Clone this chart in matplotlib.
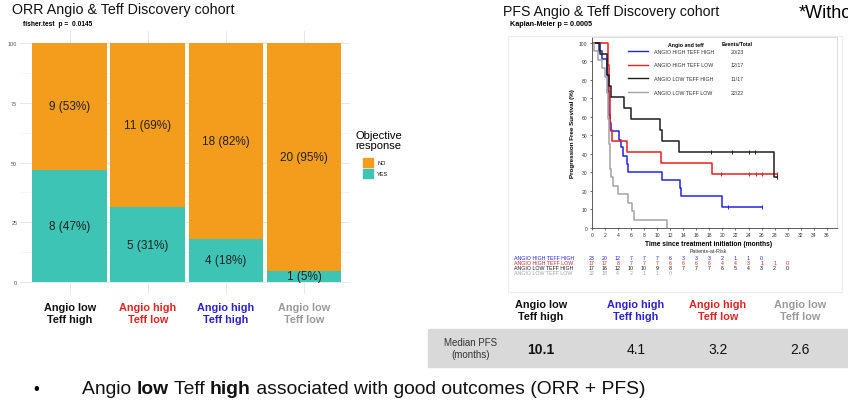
import matplotlib

matplotlib.use("Agg")
import matplotlib.pyplot as plt
import matplotlib.transforms as mtransforms
from matplotlib.patches import Rectangle
import numpy as np

plt.rcParams["font.family"] = ["Liberation Sans", "DejaVu Sans"]

# ---------------- data ----------------
orr_groups = ["Angio low\nTeff high", "Angio high\nTeff low", "Angio high\nTeff high", "Angio low\nTeff low"]
orr_group_colors = ["#111111", "#e02424", "#2a22d0", "#9a9a9a"]
orr_yes = [8, 5, 4, 1]
orr_no = [9, 11, 18, 20]

km_names = ["ANGIO HIGH TEFF HIGH", "ANGIO HIGH TEFF LOW", "ANGIO LOW TEFF HIGH", "ANGIO LOW TEFF LOW"]
km_colors = ["#2323e0", "#e32222", "#1e1e1e", "#a3a3a3"]
km_events = ["20/23", "12/17", "11/17", "22/22"]

hh_t = [0, 1.1, 1.6, 2.3, 2.4, 2.45, 2.5, 2.6, 2.65, 2.7, 2.8, 2.9, 4.2, 4.5, 4.8, 5.4, 5.6, 10.7, 13.5, 13.7, 19.9]
hh_s = [100, 95.7, 91.3, 87.0, 82.6, 78.3, 73.9, 69.6, 65.2, 60.9, 56.5, 52.2, 47.8, 43.5, 39.1, 34.8, 30.4, 26.1, 21.7, 17.4, 11.6]
hh_end = 26.0
hh_cens = [20.8, 26.0]

hl_t = [0, 2.5, 2.55, 2.6, 2.65, 2.7, 2.75, 2.8, 2.85, 3.1, 5.4, 10.6, 18.4]
hl_s = [100, 94.1, 88.2, 82.4, 76.5, 70.6, 64.7, 58.8, 52.9, 47.1, 41.2, 35.3, 29.4]
hl_end = 28.4
hl_cens = [19.8, 24.1, 25.1, 26.1, 28.3]

lh_t = [0, 1.2, 2.3, 2.4, 2.6, 3.0, 5.0, 6.0, 10.4, 10.8, 13.4, 27.9]
lh_s = [100, 94.1, 88.2, 82.4, 76.5, 70.6, 64.7, 58.8, 52.9, 47.1, 41.2, 27.5]
lh_end = 28.4
lh_cens = [18.3, 21.4, 24.1, 25.0, 28.3]

ll_t = [0, 0.3, 1.0, 1.5, 2.0, 2.3, 2.4, 2.45, 2.5, 2.55, 2.6, 2.65, 2.7, 2.75, 2.8, 2.85, 2.9, 3.3, 4.0, 5.6, 6.1, 6.5, 11.5]
ll_s = [100, 95.5, 90.9, 86.4, 81.8, 77.3, 72.7, 68.2, 63.6, 59.1, 54.5, 50.0, 45.5, 40.9, 36.4, 31.8, 27.3, 22.7, 18.2, 13.6, 9.1, 4.5, 0]
ll_end = 11.5
ll_cens = []

risk_times = list(range(0, 32, 2))
risk_hh = [23, 20, 12, 7, 7, 7, 6, 3, 3, 3, 2, 1, 1, 0]
risk_hl = [17, 17, 8, 7, 7, 7, 6, 6, 6, 6, 4, 4, 3, 1, 1, 0]
risk_lh = [17, 16, 12, 10, 10, 9, 8, 7, 7, 7, 6, 5, 4, 3, 2, 0]
risk_ll = [22, 18, 4, 2, 1, 1, 0]

pfs_groups = ["Angio low\nTeff high", "Angio high\nTeff high", "Angio high\nTeff low", "Angio low\nTeff low"]
pfs_group_colors = ["#111111", "#2a22d0", "#e02424", "#9a9a9a"]
pfs_median = ["10.1", "4.1", "3.2", "2.6"]

# ---------------- layout helpers (pixels) ----------------
W, H = 848, 410
fig = plt.figure(figsize=(W / 100, H / 100), dpi=100)


def box(l, t, r, b):
    return [l / W, 1 - b / H, (r - l) / W, (b - t) / H]


def fx(px):
    return px / W


def fy(py):
    return 1 - py / H


ORANGE = "#f49c1c"
TEAL = "#3ec4b4"

# ---------------- left: ORR stacked bars ----------------
fig.text(fx(12), fy(10), "ORR Angio & Teff Discovery cohort", fontsize=10.3, va="center", color="#111111")
fig.text(fx(23), fy(25), "fisher.test  p =  0.0145", fontsize=4.8, fontweight="bold", va="center")

ax = fig.add_axes(box(20, 32, 350, 295))
x = np.arange(len(orr_groups))
tot = np.array(orr_yes) + np.array(orr_no)
yes_pct = 100 * np.array(orr_yes) / tot
no_pct = 100 - yes_pct
ax.bar(x, yes_pct, width=0.96, color=TEAL, zorder=2)
ax.bar(x, no_pct, bottom=yes_pct, width=0.96, color=ORANGE, zorder=2)
for i in range(len(x)):
    ax.text(x[i], yes_pct[i] / 2, f"{orr_yes[i]} ({yes_pct[i]:.0f}%)", ha="center", va="center",
            fontsize=8.5, color="#222222", zorder=3)
    ax.text(x[i], yes_pct[i] + no_pct[i] / 2, f"{orr_no[i]} ({no_pct[i]:.0f}%)", ha="center",
            va="center", fontsize=8.5, color="#222222", zorder=3)
ax.set_xlim(-0.64, 3.59)
ax.set_ylim(-5, 105)
ax.set_yticks([0, 25, 50, 75, 100])
ax.set_yticks([12.5, 37.5, 62.5, 87.5], minor=True)
ax.grid(True, which="major", color="#e8e8e8", linewidth=0.7, zorder=0)
ax.grid(True, which="minor", axis="y", color="#f2f2f2", linewidth=0.5, zorder=0)
ax.set_xticks(x)
ax.set_xticklabels(orr_groups, fontsize=7.8, fontweight="bold", linespacing=1.15)
for lbl, c in zip(ax.get_xticklabels(), orr_group_colors):
    lbl.set_color(c)
ax.tick_params(axis="x", length=0, pad=6)
ax.tick_params(axis="y", length=0, labelsize=4, labelcolor="#555555", pad=2)
ax.tick_params(which="minor", length=0)
for s in ax.spines.values():
    s.set_visible(False)

# legend
fig.text(fx(355), fy(141), "Objective\nresponse", fontsize=8, va="center", linespacing=1.1)
fig.add_artist(Rectangle((fx(363), fy(168)), 10 / W, 9 / H, color=ORANGE, transform=fig.transFigure))
fig.add_artist(Rectangle((fx(363), fy(179)), 10 / W, 9 / H, color=TEAL, transform=fig.transFigure))
fig.text(fx(377), fy(163.5), "NO", fontsize=4, va="center")
fig.text(fx(377), fy(174.5), "YES", fontsize=4, va="center")

# ---------------- right: KM ----------------
fig.text(fx(503), fy(12), "PFS Angio & Teff Discovery cohort", fontsize=10.2, va="center", color="#111111")
fig.text(fx(510), fy(25), "Kaplan-Meier p = 0.0005", fontsize=5.2, fontweight="bold", va="center")
# this text is cut by the slide edge in the source as well
fig.text(fx(799), fy(14), "*Witho", fontsize=13, va="center", clip_on=False)

fig.add_artist(Rectangle((fx(508), fy(293)), (842 - 508) / W, (293 - 37) / H, fill=False,
                         edgecolor="#ececec", linewidth=0.8, transform=fig.transFigure))

kax = fig.add_axes(box(591.7, 38, 836.7, 229))
curves = [(hh_t, hh_s, hh_end, hh_cens), (hl_t, hl_s, hl_end, hl_cens),
          (lh_t, lh_s, lh_end, lh_cens), (ll_t, ll_s, ll_end, ll_cens)]
for (t, s, end, cens), col in zip(curves, km_colors):
    tt = list(t) + [end]
    ss = list(s) + [s[-1]]
    kax.step(tt, ss, where="post", color=col, linewidth=1.1)
    if cens:
        idx = np.searchsorted(t, cens, side="right") - 1
        kax.plot(cens, np.array(s)[idx], linestyle="none", marker="|", color=col,
                 markersize=3.5, markeredgewidth=0.7)
kax.set_xlim(0, 37.5)
kax.set_ylim(0, 103.2)
kax.set_xticks(np.arange(0, 37, 2))
kax.set_yticks(np.arange(0, 101, 10))
kax.tick_params(labelsize=3.6, length=1.5, width=0.5, pad=1.5, colors="#333333")
for side in ["left", "bottom"]:
    kax.spines[side].set_color("#444444")
    kax.spines[side].set_linewidth(0.6)
for side in ["top", "right"]:
    kax.spines[side].set_color("#d8d8d8")
    kax.spines[side].set_linewidth(0.6)
kax.set_ylabel("Progression Free Survival (%)", fontsize=4.5, fontweight="bold", labelpad=3)
fig.text(fx(709), fy(245), "Time since treatment initiation (months)", fontsize=4.8,
         fontweight="bold", ha="center", va="center")

# legend inside KM plot
fig.text(fx(686), fy(45), "Angio and teff", fontsize=3.8, fontweight="bold", ha="center", va="center")
fig.text(fx(737), fy(45), "Events/Total", fontsize=3.8, fontweight="bold", ha="center", va="center")
for i, (name, col, ev) in enumerate(zip(km_names, km_colors, km_events)):
    yy = fy(52 + i * 13.7)
    fig.add_artist(plt.Line2D([fx(628), fx(648)], [yy, yy], color=col, linewidth=1.0,
                              transform=fig.transFigure))
    fig.text(fx(654), yy, name, fontsize=3.8, va="center", color="#333333")
    fig.text(fx(737), yy, ev, fontsize=3.8, va="center", ha="center", color="#333333")

# risk table
blend = mtransforms.blended_transform_factory(kax.transData, fig.transFigure)
fig.text(fx(708), fy(252), "Patients-at-Risk", fontsize=3.8, ha="center", va="center", color="#333333")
risks = [risk_hh, risk_hl, risk_lh, risk_ll]
for i, (name, col, r) in enumerate(zip(km_names, km_colors, risks)):
    yy = fy(258 + i * 5.2)
    fig.text(fx(514), yy, name, fontsize=3.8, va="center", color=col)
    for t, n in zip(risk_times, r):
        kax.text(t, yy, str(n), transform=blend, fontsize=3.8, ha="center", va="center", color=col,
                 clip_on=False)

# ---------------- bottom right: median PFS table ----------------
col_x = [541, 636, 718, 800]
for cx, g, c in zip(col_x, pfs_groups, pfs_group_colors):
    fig.text(fx(cx), fy(311), g, fontsize=7.8, fontweight="bold", color=c, ha="center", va="center",
             linespacing=1.15)
fig.add_artist(Rectangle((fx(428), fy(368)), (848 - 428) / W, 38 / H, color="#d9d9d9",
                         transform=fig.transFigure))
fig.text(fx(471), fy(349), "Median PFS\n(months)", fontsize=7, ha="center", va="center",
         color="#333333", linespacing=1.15)
for i, (cx, v) in enumerate(zip(col_x, pfs_median)):
    fig.text(fx(cx), fy(350), v, fontsize=10, ha="center", va="center", color="#111111",
             fontweight="bold" if i == 0 else "normal")

# ---------------- bullet line ----------------
fig.text(fx(33), fy(390), "\u2022", fontsize=12, va="center")
renderer = fig.canvas.get_renderer()
pieces = [("Angio ", "normal"), ("low", "bold"), (" Teff ", "normal"), ("high", "bold"),
          (" associated with good outcomes (ORR + PFS)", "normal")]
xpos = 82
for txt, wt in pieces:
    t = fig.text(fx(xpos), fy(390), txt, fontsize=13.9, fontweight=wt, va="center", color="#111111")
    bb = t.get_window_extent(renderer=renderer)
    xpos += bb.width

fig.savefig("out.png", dpi=100)
plt.close(fig)
